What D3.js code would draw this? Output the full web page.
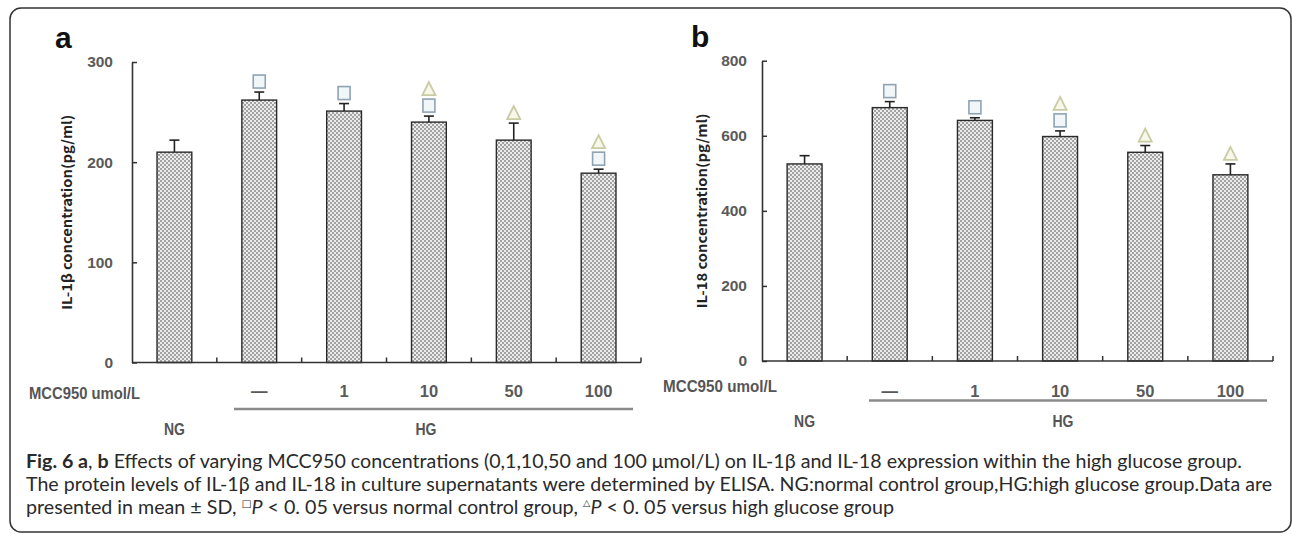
<!DOCTYPE html>
<html>
<head>
<meta charset="utf-8">
<script src="https://cdn.jsdelivr.net/npm/d3@7"></script>
<style>
  html, body { margin: 0; padding: 0; background: #fff; }
  svg { display: block; }
</style>
</head>
<body>
<svg id="chart" width="1292" height="534"></svg>
<script>
// ---------------- data ----------------
const groups = ["NG", "HG 0", "HG 1", "HG 10", "HG 50", "HG 100"];
const doseLabels = ["", "—", "1", "10", "50", "100"];
const il1bMean = [210, 262, 251, 240, 222, 189];
const il1bSD = [12, 8, 7.5, 6, 17, 4];
const il18Mean = [525, 675, 641, 598, 556, 496];
const il18SD = [22, 16, 7, 15, 18, 29];
const il1bVsNG = [false, true, true, true, false, true];
const il1bVsHG = [false, false, false, true, true, true];
const il18VsNG = [false, true, true, true, false, false];
const il18VsHG = [false, false, false, true, true, true];
const il1bTicks = [0, 100, 200, 300];
const il18Ticks = [0, 200, 400, 600, 800];
const panelLetters = ["a", "b"];
const yTitles = ["IL-1β concentration(pg/ml)", "IL-18 concentration(pg/ml)"];
const doseTitle = "MCC950 umol/L";
const groupNames = ["NG", "HG"];

// ---------------- layout ----------------
const svg = d3.select("#chart");
svg.append("rect").attr("x", 10).attr("y", 8).attr("width", 1281).attr("height", 524)
  .attr("rx", 11).attr("fill", "none").attr("stroke", "#333").attr("stroke-width", 1.5);

const defs = svg.append("defs");
const pat = defs.append("pattern").attr("id", "tex").attr("patternUnits", "userSpaceOnUse")
  .attr("width", 4).attr("height", 4);
pat.append("rect").attr("width", 4).attr("height", 4).attr("fill", "#ececec");
pat.append("path").attr("d", "M0,0h2v2h-2z M2,2h2v2h-2z").attr("fill", "#a2a2a2");

const panels = [
  { mean: il1bMean, sd: il1bSD, vsNG: il1bVsNG, vsHG: il1bVsHG, ticks: il1bTicks,
    x0: 132, x1: 641, yTop: 62, yBot: 362.5, max: 300, tickPad: 19,
    letterX: 55, letterY: 48, titleX: 66, doseTitleX: 29, doseTitleY: 393, doseTitleW: 111,
    doseY: 391, lineY: 409, lineX0: 234, lineX1: 633, groupY: 429, hgX: 426 },
  { mean: il18Mean, sd: il18SD, vsNG: il18VsNG, vsHG: il18VsHG, ticks: il18Ticks,
    x0: 762, x1: 1273, yTop: 60.7, yBot: 361, max: 800, tickPad: 15,
    letterX: 691, letterY: 47, titleX: 701, doseTitleX: 663, doseTitleY: 386, doseTitleW: 114,
    doseY: 391, lineY: 400.5, lineX0: 869, lineX1: 1267, groupY: 421, hgX: 1063 }
];

const labelFont = "'Liberation Sans', Arial, sans-serif";

panels.forEach((p, pi) => {
  const g = svg.append("g");
  const x = d3.scaleBand().domain(groups).range([p.x0, p.x1]).paddingInner(0.59).paddingOuter(0.295);
  const y = d3.scaleLinear().domain([0, p.max]).range([p.yBot, p.yTop]);
  const step = x.step();

  // panel letter
  g.append("text").attr("x", p.letterX).attr("y", p.letterY).text(panelLetters[pi])
    .attr("font-family", "'Liberation Sans', Arial, sans-serif").attr("font-weight", "bold")
    .attr("font-size", 30).attr("fill", "#111");

  // y axis
  const ya = g.append("g").attr("transform", `translate(${p.x0},0)`)
    .call(d3.axisLeft(y).tickValues(p.ticks).tickSize(-5).tickPadding(p.tickPad).tickSizeOuter(0));
  ya.select(".domain").attr("stroke", "#333").attr("stroke-width", 1.6);
  ya.selectAll(".tick line").attr("stroke", "#333").attr("stroke-width", 1.5);
  ya.selectAll(".tick text").attr("font-family", labelFont).attr("font-weight", "bold")
    .attr("font-size", 15.5).attr("fill", "#5a5a5a");

  // y title
  g.append("text").attr("transform", `translate(${p.titleX},${(p.yTop + p.yBot) / 2}) rotate(-90)`)
    .attr("text-anchor", "middle").attr("dominant-baseline", "central")
    .attr("font-family", "'Noto Sans CJK SC', sans-serif").attr("font-weight", "bold")
    .attr("font-size", 13.5).attr("fill", "#222")
    .attr("textLength", 195).attr("lengthAdjust", "spacingAndGlyphs")
    .text(yTitles[pi]);

  // bars
  g.selectAll("rect.bar").data(groups).join("rect").attr("class", "bar")
    .attr("x", d => x(d)).attr("width", x.bandwidth())
    .attr("y", (d, i) => y(p.mean[i])).attr("height", (d, i) => y(0) - y(p.mean[i]))
    .attr("fill", "url(#tex)").attr("stroke", "#2a2a2a").attr("stroke-width", 1.4);

  // error bars (upper only)
  const eb = g.selectAll("g.err").data(groups).join("g").attr("class", "err");
  eb.append("line").attr("x1", d => x(d) + x.bandwidth() / 2).attr("x2", d => x(d) + x.bandwidth() / 2)
    .attr("y1", (d, i) => y(p.mean[i])).attr("y2", (d, i) => y(p.mean[i] + p.sd[i]))
    .attr("stroke", "#222").attr("stroke-width", 1.6);
  eb.append("line").attr("x1", d => x(d) + x.bandwidth() / 2 - 5).attr("x2", d => x(d) + x.bandwidth() / 2 + 5)
    .attr("y1", (d, i) => y(p.mean[i] + p.sd[i])).attr("y2", (d, i) => y(p.mean[i] + p.sd[i]))
    .attr("stroke", "#222").attr("stroke-width", 1.6);

  // significance markers
  const sq = 13, gap = 4;
  groups.forEach((d, i) => {
    const cx = x(d) + x.bandwidth() / 2;
    let top = y(p.mean[i] + p.sd[i]) - gap;
    if (p.vsNG[i]) {
      g.append("rect").attr("x", cx - sq / 2 + 0.5).attr("y", top - sq).attr("width", sq - 1).attr("height", sq)
        .attr("fill", "#f1f6f8").attr("stroke", "#8fa3b3").attr("stroke-width", 1.6);
      top = top - sq - gap;
    }
    if (p.vsHG[i]) {
      g.append("path").attr("d", `M${cx},${top - sq} L${cx + 6.5},${top} L${cx - 6.5},${top} Z`)
        .attr("fill", "#f7f7ea").attr("stroke", "#c9cba2").attr("stroke-width", 1.8);
    }
  });

  // x axis
  g.append("line").attr("x1", p.x0).attr("x2", p.x1).attr("y1", y(0)).attr("y2", y(0))
    .attr("stroke", "#333").attr("stroke-width", 1.6);
  g.selectAll("line.xt").data(groups).join("line").attr("class", "xt")
    .attr("x1", d => x(d) + x.bandwidth() + (step - x.bandwidth()) / 2)
    .attr("x2", d => x(d) + x.bandwidth() + (step - x.bandwidth()) / 2)
    .attr("y1", y(0)).attr("y2", y(0) - 5).attr("stroke", "#333").attr("stroke-width", 1.5);

  // dose labels
  g.selectAll("text.dose").data(groups).join("text").attr("class", "dose")
    .attr("x", d => x(d) + x.bandwidth() / 2).attr("y", p.doseY)
    .attr("text-anchor", "middle").attr("dominant-baseline", "central")
    .attr("font-family", labelFont).attr("font-weight", "bold").attr("font-size", 16.5).attr("fill", "#5a5a5a")
    .text((d, i) => doseLabels[i]);
  g.append("text").attr("x", p.doseTitleX).attr("y", p.doseTitleY).attr("dominant-baseline", "central")
    .attr("font-family", labelFont).attr("font-weight", "bold").attr("font-size", 17).attr("fill", "#555")
    .attr("textLength", p.doseTitleW).attr("lengthAdjust", "spacingAndGlyphs")
    .text(doseTitle);

  // group underline + names
  g.append("line").attr("x1", p.lineX0).attr("x2", p.lineX1).attr("y1", p.lineY).attr("y2", p.lineY)
    .attr("stroke", "#8a8a8a").attr("stroke-width", 2.5);
  [groups[0], null].forEach((gd, k) => {
    g.append("text").attr("x", k === 0 ? x(gd) + x.bandwidth() / 2 : p.hgX).attr("y", p.groupY)
      .attr("text-anchor", "middle").attr("dominant-baseline", "central")
      .attr("font-family", labelFont).attr("font-weight", "bold").attr("font-size", 17).attr("fill", "#555")
      .attr("textLength", 21).attr("lengthAdjust", "spacingAndGlyphs")
      .text(groupNames[k]);
  });
});

// ---------------- caption ----------------
const capFont = "Lato, 'Open Sans', sans-serif";
const capSize = 18.5;
const cap = svg.append("g").attr("font-family", capFont).attr("font-size", capSize).attr("fill", "#2a2a2a");

const l1 = cap.append("text").attr("x", 26).attr("y", 468)
  .attr("textLength", 1216).attr("lengthAdjust", "spacingAndGlyphs");
l1.append("tspan").attr("font-weight", "bold").text("Fig. 6 a");
l1.append("tspan").text(", ");
l1.append("tspan").attr("font-weight", "bold").text("b");
l1.append("tspan").text(" Effects of varying MCC950 concentrations (0,1,10,50 and 100 μmol/L) on IL-1β and IL-18 expression within the high glucose group.");

cap.append("text").attr("x", 26).attr("y", 491)
  .attr("textLength", 1246).attr("lengthAdjust", "spacingAndGlyphs")
  .text("The protein levels of IL-1β and IL-18 in culture supernatants were determined by ELISA. NG:normal control group,HG:high glucose group.Data are");

const l3 = cap.append("text").attr("x", 26).attr("y", 514)
  .attr("textLength", 868).attr("lengthAdjust", "spacingAndGlyphs");
l3.append("tspan").text("presented in mean ± SD, ");
l3.append("tspan").attr("font-size", 10).attr("dy", -7).attr("font-family", "'DejaVu Sans', sans-serif").text("□");
l3.append("tspan").attr("dy", 7).attr("font-style", "italic").text("P");
l3.append("tspan").text(" < 0. 05 versus normal control group, ");
l3.append("tspan").attr("font-size", 9).attr("dy", -8).attr("font-family", "'DejaVu Sans', sans-serif").text("△");
l3.append("tspan").attr("dy", 8).attr("font-style", "italic").text("P");
l3.append("tspan").text(" < 0. 05 versus high glucose group");
</script>
</body>
</html>
